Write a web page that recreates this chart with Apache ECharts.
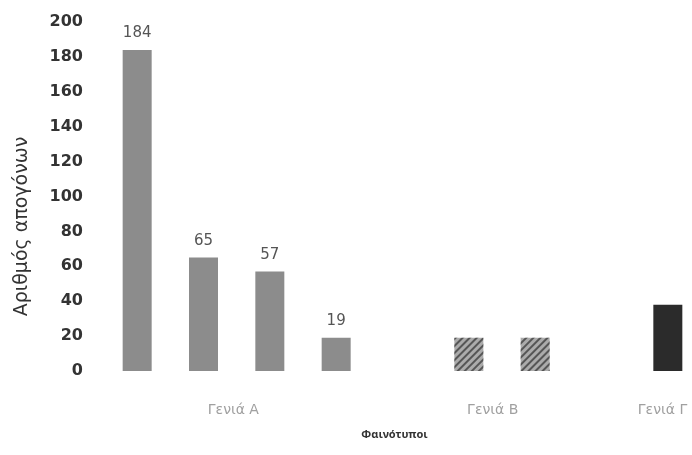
<!DOCTYPE html>
<html>
<head>
<meta charset="utf-8">
<script src="https://cdn.jsdelivr.net/npm/echarts@6/dist/echarts.min.js"></script>
<style>html,body{margin:0;padding:0;background:#fff}#c{width:692px;height:455px}</style>
</head>
<body>
<div id="c"></div>
<script>
const categories = ['A1','A2','A3','A4','','B1','B2','','G1'];
const values = [184, 65, 57, 19, null, 19, 19, null, 38];
const groups = ['A','A','A','A','','B','B','','G'];
const groupLabels = ['Γενιά Α', 'Γενιά Β', 'Γενιά Γ'];
const groupLabelPositions = [1.45, 5.36, 7.92];
const yTicks = [0, 200, 20];

const FONT = '"DejaVu Sans", "Noto Sans", sans-serif';
const styleFor = {
  A: {color: '#8c8c8c'},
  B: {color: '#ababab', decal: {symbol: 'rect', dashArrayX: [1, 0], dashArrayY: [2, 3], rotation: -Math.PI / 4, color: 'rgba(50,50,50,0.7)', symbolSize: 1}},
  G: {color: '#2b2b2b'}
};
const seriesData = values.map((v, i) => ({
  value: v,
  itemStyle: styleFor[groups[i]] || {},
  label: {show: groups[i] === 'A'}
}));

const chart = echarts.init(document.getElementById('c'));
chart.setOption({
  animation: false,
  grid: {left: 104, right: -9, top: 22, bottom: 84, outerBoundsMode: 'none', containLabel: false},
  xAxis: [{
    type: 'category',
    data: categories,
    axisLine: {show: false},
    axisTick: {show: false},
    axisLabel: {show: false}
  }, {
    type: 'value',
    position: 'bottom',
    min: -0.5,
    max: 8.5,
    splitLine: {show: false},
    axisLine: {show: false},
    axisTick: {show: false},
    axisLabel: {
      customValues: groupLabelPositions,
      margin: 32,
      color: '#a0a0a0',
      fontSize: 14,
      fontFamily: FONT,
      formatter: v => {
        const i = groupLabelPositions.findIndex(p => Math.abs(p - v) < 1e-6);
        return i >= 0 ? groupLabels[i] : '';
      }
    },
    name: 'Φαινότυποι',
    nameLocation: 'middle',
    nameGap: 58,
    nameTextStyle: {color: '#333', fontSize: 11, fontWeight: 'bold', fontFamily: '"Noto Sans", sans-serif', padding: [0, 16, 0, 0]}
  }],
  yAxis: {
    type: 'value',
    min: yTicks[0],
    max: yTicks[1],
    interval: yTicks[2],
    splitLine: {show: false},
    axisLine: {show: false},
    axisTick: {show: false},
    axisLabel: {color: '#333', fontSize: 16, fontWeight: 'bold', fontFamily: FONT, margin: 21},
    name: 'Αριθμός απογόνων',
    nameLocation: 'middle',
    nameGap: 72,
    nameTextStyle: {color: '#333', fontSize: 19, fontFamily: FONT, padding: [0, 60, 0, 0]}
  },
  series: [{
    type: 'bar',
    xAxisIndex: 0,
    barWidth: 29,
    data: seriesData,
    label: {position: 'top', distance: 9, color: '#555', fontSize: 15, fontFamily: FONT}
  }]
});
</script>
</body>
</html>
